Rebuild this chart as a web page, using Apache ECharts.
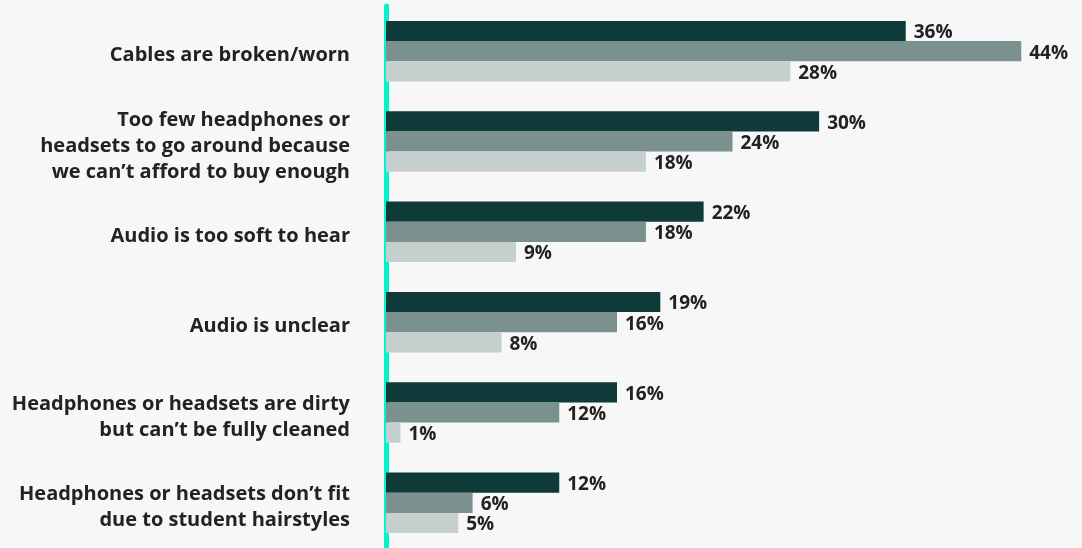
<!DOCTYPE html>
<html><head><meta charset="utf-8">
<script src="https://cdn.jsdelivr.net/npm/echarts@6/dist/echarts.min.js"></script>
<style>html,body{margin:0;padding:0;background:#f7f7f7;}#c{width:1082px;height:548px;}</style>
</head><body><div id="c"></div>
<script>
const categories = [
  "Cables are broken/worn",
  "Too few headphones or\nheadsets to go around because\nwe can\u2019t afford to buy enough",
  "Audio is too soft to hear",
  "Audio is unclear",
  "Headphones or headsets are dirty\nbut can\u2019t be fully cleaned",
  "Headphones or headsets don\u2019t fit\ndue to student hairstyles"
];
const seriesA = [36, 30, 22, 19, 16, 12];
const seriesB = [44, 24, 18, 16, 12, 6];
const seriesC = [28, 18, 9, 8, 1, 5];
const colors = ["#0e3a3a", "#7a9190", "#c5d0ce"];

const chart = echarts.init(document.getElementById('c'), null, {renderer: 'canvas'});
const labelStyle = {show: true, position: 'right', distance: 8, offset: [0, 2], formatter: '{c}%',
  fontFamily: 'Open Sans', fontWeight: 'bold', fontSize: 19, color: '#222'};
function mk(data, color) {
  return {type: 'bar', data: data, barGap: '0%', barCategoryGap: '33%',
    itemStyle: {color: color}, label: labelStyle};
}
chart.setOption({
  backgroundColor: '#f7f7f7',
  animation: false,
  grid: {left: 386, right: 3, top: 6, bottom: -2, containLabel: false},
  xAxis: {type: 'value', min: 0, max: 48, show: false},
  yAxis: {type: 'category', data: categories, inverse: true,
    offset: 2,
    axisLine: {show: true, lineStyle: {color: '#00f5c8', width: 5}},
    axisTick: {show: false},
    axisLabel: {margin: 34, align: 'right',
      formatter: function (v) {
        return '{s| }\n' + v.split('\n').map(function (l) { return '{a|' + l + '}'; }).join('\n');
      },
      rich: {
        s: {fontSize: 1, lineHeight: 9},
        a: {fontFamily: 'Open Sans', fontWeight: 'bold', fontSize: 20, color: '#222', lineHeight: 26, align: 'right'}
      }}},
  series: [mk(seriesA, colors[0]), mk(seriesB, colors[1]), mk(seriesC, colors[2])]
});
</script></body></html>
